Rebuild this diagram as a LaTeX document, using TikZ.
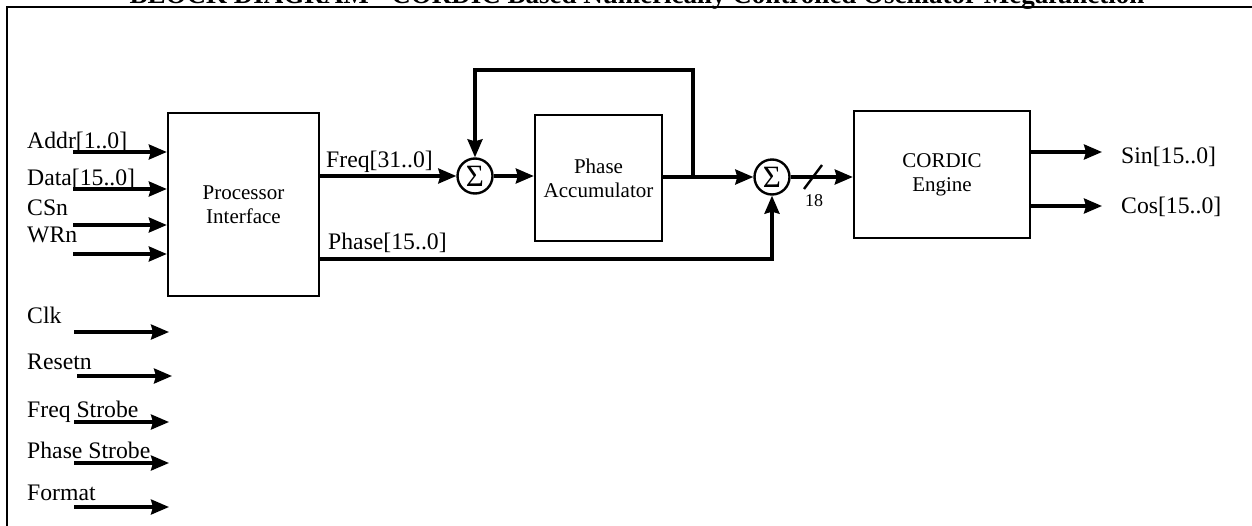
\documentclass[tikz,border=0pt]{standalone}
\usepackage{fontspec}
\setmainfont{Liberation Serif}
\usetikzlibrary{arrows.meta}
\begin{document}
\begin{tikzpicture}[x=1pt,y=-1pt,
  blk/.style={draw, line width=2.4pt, align=center, font=\fontsize{21}{24}\selectfont, inner sep=0pt},
  sumnode/.style={draw, circle, line width=2.4pt, minimum size=35pt, inner sep=0pt, font=\fontsize{31}{31}\selectfont},
  wire/.style={line width=3.2pt},
  arr/.style={wire, -{Stealth[length=18pt,width=15pt,inset=2pt]}},
  sig/.style={font=\fontsize{23.7}{26}\selectfont, anchor=base west, inner sep=0pt}]
\useasboundingbox (0,0) rectangle (1252,525);
\clip (0,0) rectangle (1252,525);

% title and frame
\node[font=\fontsize{27}{30}\selectfont\bfseries, anchor=base, inner sep=0pt] (title) at (637,3)
  {BLOCK DIAGRAM - CORDIC Based Numerically Controlled Oscillator Megafunction};
\draw[line width=2.6pt] (7,7) rectangle (1262,535);

% blocks
\node[blk, minimum width=151pt, minimum height=183pt] (pi) at (243.5,204.5) {Processor\\Interface};
\node[blk, minimum width=127pt, minimum height=126pt] (pa) at (598.5,178) {Phase\\Accumulator};
\node[blk, minimum width=176pt, minimum height=127pt] (ce) at (942,174.5) {CORDIC\\Engine};
\node[sumnode] (s1) at (475,176) {Σ};
\node[sumnode] (s2) at (772,177) {Σ};

% inputs to processor interface
\coordinate (ia) at (73,152);
\coordinate (id) at (73,189);
\coordinate (ic) at (73,225);
\coordinate (iw) at (73,254);
\draw[arr] (ia) -- (ia -| pi.west);
\draw[arr] (id) -- (id -| pi.west);
\draw[arr] (ic) -- (ic -| pi.west);
\draw[arr] (iw) -- (iw -| pi.west);
\node[sig] (la) at (27,148) {Addr[1..0]};
\node[sig] (ld) at (27,185) {Data[15..0]};
\node[sig] (lc) at (27,215) {CSn};
\node[sig] (lw) at (27,242) {WRn};

% other inputs
\coordinate (k0) at (74,332);  \coordinate (k1) at (169,332);
\coordinate (r0) at (77,376);  \coordinate (r1) at (172,376);
\coordinate (f0) at (74,422);  \coordinate (f1) at (169,422);
\coordinate (p0) at (74,463);  \coordinate (p1) at (169,463);
\coordinate (m0) at (74,507);  \coordinate (m1) at (169,507);
\draw[arr] (k0) -- (k1);
\draw[arr] (r0) -- (r1);
\draw[arr] (f0) -- (f1);
\draw[arr] (p0) -- (p1);
\draw[arr] (m0) -- (m1);
\node[sig] (lk) at (27,323) {Clk};
\node[sig] (lr) at (27,369) {Resetn};
\node[sig] (lf) at (27,417) {Freq Strobe};
\node[sig] (lp) at (27,458) {Phase Strobe};
\node[sig] (lm) at (27,500) {Format};

% datapath
\draw[arr] (pi.east |- s1) -- (s1.west);
\node[sig] (lfreq) at (326,167) {Freq[31..0]};
\draw[arr] (s1.east) -- (s1.east -| pa.west);
\coordinate (j) at (693,177);
\coordinate (fb) at (693,70);
\draw[wire] (pa.east |- j) -- (j);
\draw[arr] (j) -- (s2.west);
\draw[arr] (j) -- (fb) -| (s1.north);
\coordinate (ph) at (pi.east |- 0,259);
\draw[arr] (ph) -| (s2.south);
\node[sig] (lphase) at (328,249) {Phase[15..0]};
\draw[arr] (s2.east) -- (s2.east -| ce.west);
\draw[line width=2.4pt] (804,189) -- (822,165);
\node[font=\fontsize{18}{20}\selectfont, anchor=base west, inner sep=0pt] (w18) at (805,206) {18};

% outputs
\coordinate (so) at (1102,152);
\coordinate (co) at (1102,206);
\draw[arr] (ce.east |- so) -- (so);
\draw[arr] (ce.east |- co) -- (co);
\node[sig] (lsin) at (1121,163) {Sin[15..0]};
\node[sig] (lcos) at (1121,213) {Cos[15..0]};
\end{tikzpicture}
\end{document}
